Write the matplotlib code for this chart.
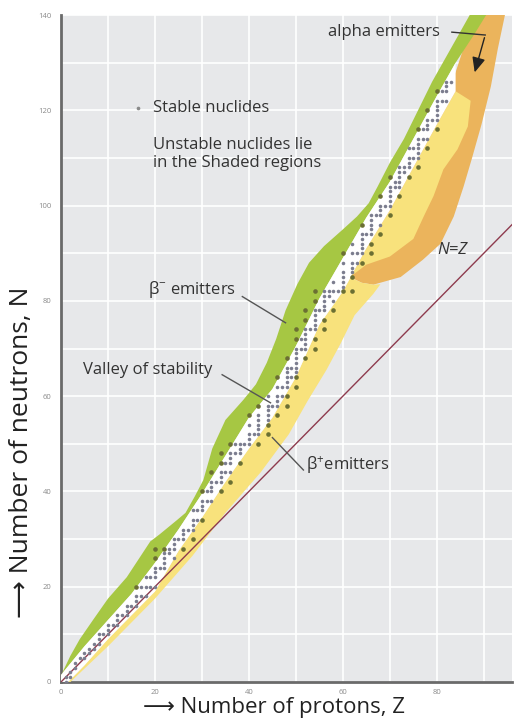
import matplotlib
matplotlib.use("Agg")
import matplotlib.pyplot as plt
import numpy as np
from matplotlib.path import Path

# stable nuclides: neutron numbers of the stable isotopes, index = Z - 1
stable_N = [
    [0, 1], [1, 2], [3, 4], [5], [5, 6], [6, 7], [7, 8], [8, 9, 10], [10], [10, 11, 12],
    [12], [12, 13, 14], [14], [14, 15, 16], [16], [16, 17, 18, 20], [18, 20], [18, 20, 22], [20, 22], [20, 22, 23, 24, 26, 28],
    [24], [24, 25, 26, 27, 28], [27, 28], [26, 28, 29, 30], [30], [28, 30, 31, 32], [32], [30, 32, 33, 34, 36], [34, 36], [34, 36, 37, 38, 40],
    [38, 40], [38, 40, 41, 42, 44], [42], [40, 42, 43, 44, 46, 48], [44, 46], [42, 44, 46, 47, 48, 50], [48, 50], [46, 48, 49, 50], [50], [50, 51, 52, 54, 56],
    [52], [50, 52, 53, 54, 55, 56, 58], [], [52, 54, 55, 56, 57, 58, 60], [58], [56, 58, 59, 60, 62, 64], [60, 62], [58, 60, 62, 63, 64, 65, 66, 68], [64, 66], [62, 64, 65, 66, 67, 68, 69, 70, 72, 74],
    [70, 72], [68, 70, 71, 72, 73, 74, 76, 78], [74], [70, 72, 74, 75, 76, 77, 78, 80, 82], [78], [74, 76, 78, 79, 80, 81, 82], [81, 82], [78, 80, 82, 84], [82], [82, 83, 84, 85, 86, 88, 90],
    [], [82, 85, 86, 87, 88, 90, 92], [88, 90], [88, 90, 91, 92, 93, 94, 96], [94], [90, 92, 94, 95, 96, 97, 98], [98], [94, 96, 98, 99, 100, 102], [100], [98, 100, 101, 102, 103, 104, 106],
    [104, 105], [102, 104, 105, 106, 107, 108], [107, 108], [106, 108, 109, 110, 112], [110, 112], [108, 110, 111, 112, 113, 114, 116], [114, 116], [112, 114, 116, 117, 118, 120], [118], [116, 118, 119, 120, 121, 122, 124],
    [122, 124], [122, 124, 125, 126], [126],
]

# white "valley of stability" strip
strip_Z = [0, 5, 10, 15, 20, 25, 30, 35, 40, 45, 50, 55, 60, 65, 70, 75, 80, 84]
strip_top = [1.5, 7.5, 13, 18.5, 25, 32, 39.5, 47.5, 55.5, 61.5, 70.5, 80.5, 89, 97.5, 105, 114, 123, 130]
strip_bot = [-1.5, 3.5, 9, 14, 19, 27.5, 34.5, 42, 49, 55.5, 64, 75, 82, 91, 99, 108, 117, 124]

# beta- band, outer edge
green_Z = [0, 0.3, 2, 4, 6.8, 10, 14, 19, 21, 24.7, 26.5, 28.5, 30.3, 32.2, 35, 38.8, 41.5, 43.8, 45.8,
           47.8, 50.3, 52.8, 56, 60, 63, 65.5, 67.4, 70, 73, 76, 79, 83, 87, 90.5, 88]
green_N = [0.5, 2, 5.5, 9, 13, 17.5, 22, 29.5, 31, 34, 35.5, 39, 42.4, 49, 55, 59.2, 62.5, 67, 72,
           78, 83.5, 88, 91.5, 95, 97.7, 100.5, 104, 109, 114, 120, 126, 133, 140, 140, 136]

# beta+ band, outer edge (from the alpha tongue back to the origin)
yellow_Z = [87.2, 86.6, 84.4, 81.4, 79.3, 77.2, 75, 70, 65, 61.5, 64, 66.5, 68,
            66.5, 62.5, 59.5, 56.5, 52.5, 48.5, 42.5, 35, 28, 20, 10, 2, 0]
yellow_N = [122, 116.6, 111.8, 107.6, 102, 97.7, 93, 89.3, 87.6, 85, 83.8, 83.4, 83.5,
            81.5, 77, 71, 65.5, 59, 52, 44, 35.5, 26.5, 17.5, 7.5, 0, -1.5]

# alpha emitters
orange_Z = [61.5, 64, 66.5, 72.3, 77, 80.8, 83.6, 85.7, 87.5, 89.5, 91.5, 93, 94.5, 88, 84, 80, 75, 70, 65, 61]
orange_N = [85, 83.8, 83.4, 85, 88.6, 92, 97.7, 104, 110, 117, 125, 133, 140, 140, 128, 121, 112, 104, 96, 88]

bg = "#e7e8ea"
green = "#a6c743"
yellow = "#f8e27c"
orange = "#ebb45c"
txt = "#333333"
plt.rcParams["font.family"] = ["Open Sans", "DejaVu Sans"]

fig = plt.figure(figsize=(5.16, 7.26), dpi=100)
ax = fig.add_axes([61 / 516, 44 / 726, 451 / 516, 667 / 726])
ax.set_facecolor(bg)
ax.set_xlim(0, 96)
ax.set_ylim(0, 140)

ax.set_xticks(np.arange(0, 90, 20))
ax.set_xticks(np.arange(0, 100, 10), minor=True)
ax.set_yticks(np.arange(0, 150, 20))
ax.set_yticks(np.arange(0, 150, 10), minor=True)
ax.grid(which="both", color="white", lw=1.2)
ax.set_axisbelow(True)
ax.tick_params(which="both", length=0, labelsize=5.5, labelcolor="#8a8a8a")
ax.tick_params(axis="x", pad=5)
ax.tick_params(axis="y", pad=7)
for s in ["top", "right"]:
    ax.spines[s].set_visible(False)
for s in ["left", "bottom"]:
    ax.spines[s].set_color("#6a6a6a")
    ax.spines[s].set_linewidth(2)

# regions
ax.fill(orange_Z, orange_N, color=orange, lw=0, zorder=2)
ax.fill(strip_Z + yellow_Z, strip_bot + yellow_N, color=yellow, lw=0, zorder=3)
ax.fill(green_Z + strip_Z[::-1], green_N + strip_top[::-1], color=green, lw=0, zorder=4)
ax.fill(strip_Z + strip_Z[::-1], strip_top + strip_bot[::-1], color="white", lw=0, zorder=5)

# N = Z line
ax.plot([0, 96], [0, 96], color="#8e3b4e", lw=1.0, zorder=6)

# stable nuclides
Z = np.array([z + 1 for z, ns in enumerate(stable_N) for n in ns])
N = np.array([n for ns in stable_N for n in ns])
strip_path = Path(list(zip(strip_Z + strip_Z[::-1], strip_top + strip_bot[::-1])))
inside = strip_path.contains_points(np.column_stack([Z, N]))
ax.scatter(Z[inside], N[inside], s=6.5, color="#7b7d8e", lw=0, zorder=7)
ax.scatter(Z[~inside], N[~inside], s=11, color="#6b6f33", lw=0, zorder=7)

# legend / notes
fs = 12
ax.scatter([16.4], [120.5], s=7, color="#8a8a8a", lw=0, zorder=8)
ax.text(19.6, 120.5, "Stable nuclides", fontsize=fs, color=txt, va="center")
ax.text(19.6, 112.8, "Unstable nuclides lie", fontsize=fs, color=txt, va="center")
ax.text(19.6, 109.0, "in the Shaded regions", fontsize=fs, color=txt, va="center")

# annotations
ax.text(18.5, 82.3, r"$\mathregular{β^{-}}$ emitters", fontsize=fs, color=txt, va="center")
ax.plot([38.6, 47.8], [80.9, 75.4], color="#555555", lw=1.0, zorder=9)
ax.text(4.7, 65.5, "Valley of stability", fontsize=fs, color=txt, va="center")
ax.plot([34.3, 44.6], [64.5, 58.6], color="#555555", lw=1.0, zorder=9)
ax.text(52.1, 45.5, r"$\mathregular{β^{+}}$emitters", fontsize=fs, color=txt, va="center")
ax.plot([45.0, 51.6], [51.3, 44.5], color="#555555", lw=1.0, zorder=9)
ax.text(80.2, 90.7, "N=Z", fontsize=fs, style="italic", color=txt, va="center")
ax.text(56.8, 136.4, "alpha emitters", fontsize=fs, color=txt, va="center")
ax.plot([83.2, 90.3], [136.4, 135.8], color="#333333", lw=1.0, zorder=9)
ax.annotate("", xy=(87.9, 127.4), xytext=(90.3, 135.8),
            arrowprops=dict(arrowstyle="-|>,head_length=0.9,head_width=0.4", color="#222222", lw=1.0),
            zorder=9)

ax.set_xlabel("⟶ Number of protons, Z", fontsize=16, color="#222222")
ax.set_ylabel("⟶ Number of neutrons, N", fontsize=19, color="#222222")
ax.xaxis.set_label_coords(0.472, -0.022)
ax.yaxis.set_label_coords(-0.06, 0.345)

fig.savefig("out.png", dpi=100)
